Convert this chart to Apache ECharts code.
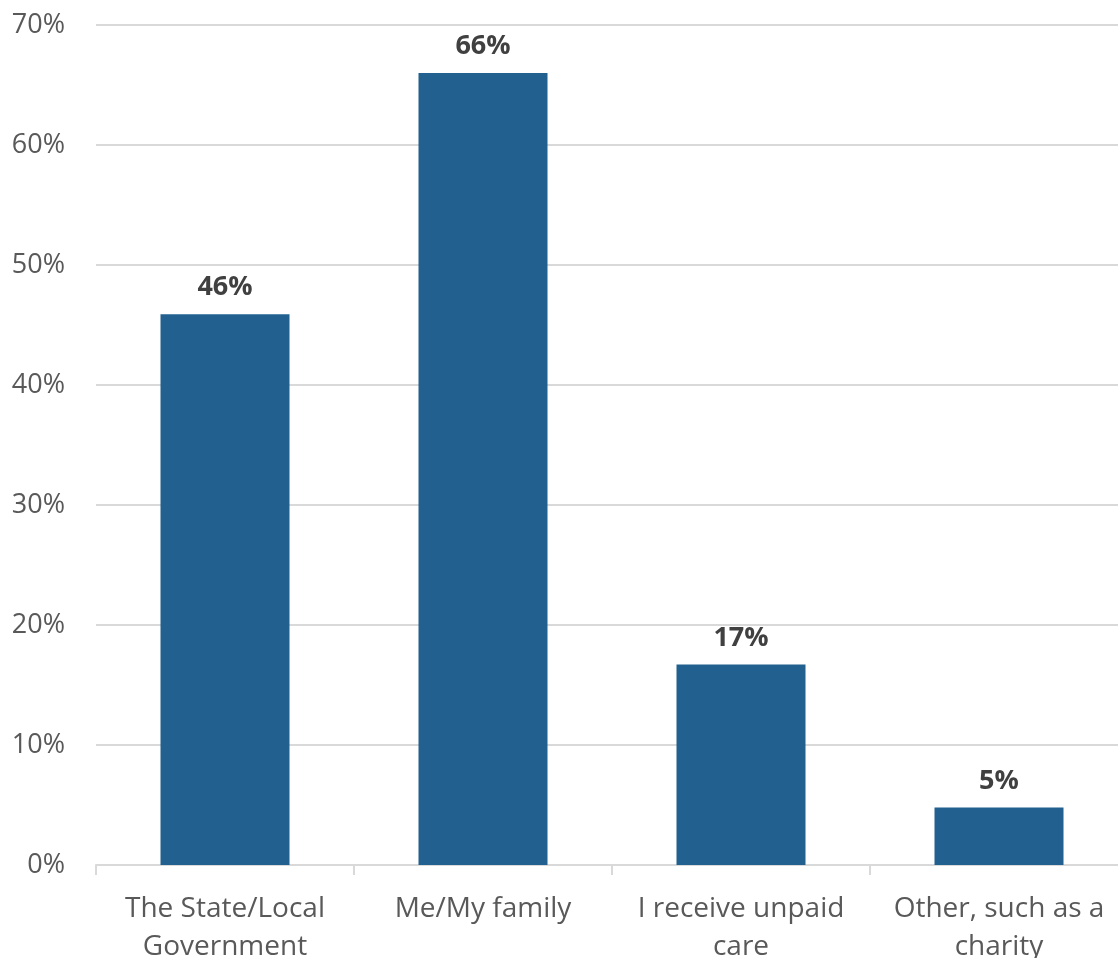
<!DOCTYPE html>
<html>
<head>
<meta charset="utf-8">
<script src="https://cdn.jsdelivr.net/npm/echarts@6/dist/echarts.min.js"></script>
<style>
html,body{margin:0;padding:0;background:#fff;overflow:hidden;}
#chart{width:1118px;height:958px;}
</style>
</head>
<body>
<div id="chart"></div>
<script>
var categories = ['The State/Local\nGovernment', 'Me/My family', 'I receive unpaid\ncare', 'Other, such as a\ncharity'];
var values = [45.9, 66.0, 16.7, 4.8];
var yTicks = [0, 10, 20, 30, 40, 50, 60, 70];

var chart = echarts.init(document.getElementById('chart'));
chart.setOption({
  animation: false,
  grid: {left: 96, right: -10, top: 25, bottom: 93, containLabel: false, outerBoundsMode: 'none'},
  xAxis: {
    type: 'category',
    data: categories,
    axisLine: {show: true, lineStyle: {color: '#d9d9d9', width: 2}},
    axisTick: {show: true, length: 10, lineStyle: {color: '#d9d9d9', width: 2}},
    axisLabel: {
      color: '#595959', fontFamily: 'Open Sans', fontSize: 28,
      margin: 25, lineHeight: 38, interval: 0
    }
  },
  yAxis: {
    type: 'value',
    min: yTicks[0], max: yTicks[yTicks.length - 1], interval: 10,
    axisLine: {show: false},
    axisTick: {show: false},
    splitLine: {lineStyle: {color: '#d9d9d9', width: 2}},
    axisLabel: {
      color: '#595959', fontFamily: 'Open Sans', fontSize: 27, margin: 31,
      formatter: function (v) { return v + '%'; }
    }
  },
  series: [{
    type: 'bar',
    data: values,
    barWidth: '50%',
    itemStyle: {color: '#21608f'},
    label: {
      show: true, position: 'top', distance: 13,
      color: '#404040', fontFamily: 'Open Sans', fontWeight: 'bold', fontSize: 27,
      formatter: function (p) { return Math.round(p.value) + '%'; }
    }
  }]
});
</script>
</body>
</html>
